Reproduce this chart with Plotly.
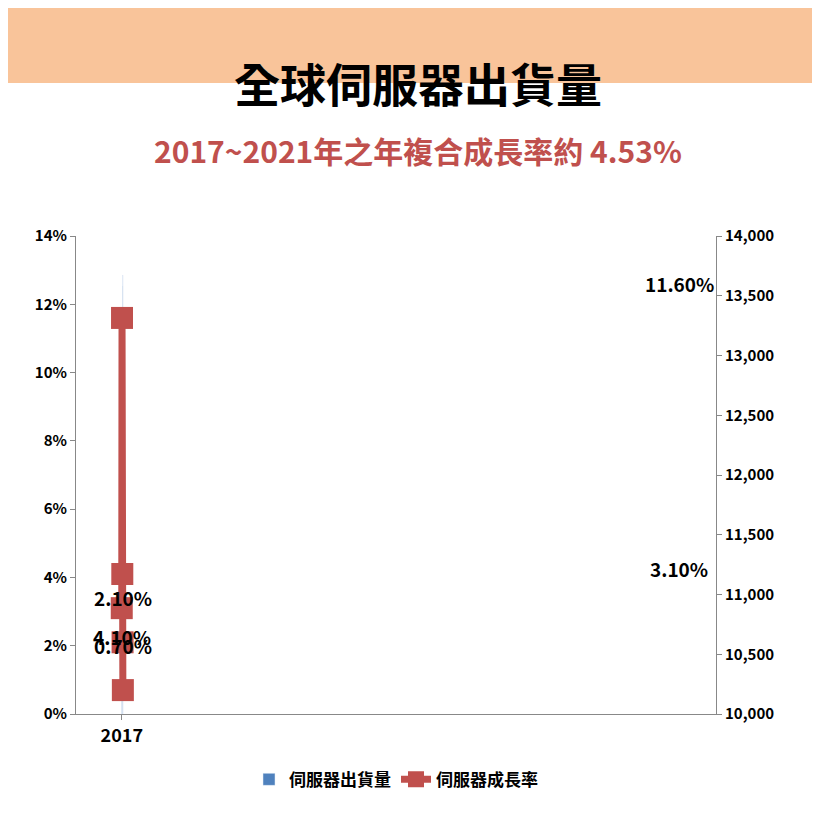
import plotly.graph_objects as go

years = ["2017", "2018", "2019(f)", "2020(f)", "2021(f)"]
shipments = [11451, 12784, 13307, 13582, 13673]
growth = [3.10, 11.60, 4.10, 2.10, 0.70]
growth_shift = [40, 34, -62, 45, 45]
left_ticks = [0, 2, 4, 6, 8, 10, 12, 14]
right_ticks = [10000, 10500, 11000, 11500, 12000, 12500, 13000, 13500, 14000]

F = "Noto Sans CJK TC"
RED = "#C0504D"
BLUE = "#4F81BD"

fig = go.Figure()
fig.add_trace(go.Bar(x=years, y=shipments, name="伺服器出貨量", marker_color=BLUE, width=0.62,
                     text=[f"{v:,}" for v in shipments], textposition="inside",
                     insidetextanchor="middle", textangle=0,
                     textfont=dict(color="white", size=19, family=F, weight="bold"), yaxis="y"))
fig.add_trace(go.Scatter(x=years, y=growth, name="伺服器成長率", mode="lines+markers",
                         line=dict(color=RED, width=7),
                         marker=dict(symbol="square", size=22, color=RED), yaxis="y2"))
for x, g, s in zip(years, growth, growth_shift):
    fig.add_annotation(x=x, y=g, xref="x", yref="y2", text=f"{g:.2f}%", showarrow=False, yshift=s,
                       font=dict(size=19, color="black", family=F, weight="bold"))

fig.add_shape(type="rect", xref="paper", yref="paper", x0=-0.11, x1=1.18, y0=1.32, y1=1.48,
              fillcolor="#F9C49A", line_width=0, layer="below")
fig.add_annotation(xref="paper", yref="paper", x=0.534, y=1.395, text="全球伺服器出貨量", showarrow=False,
                   font=dict(size=46, color="black", family=F, weight="bold"))
fig.add_annotation(xref="paper", yref="paper", x=0.534, y=1.23, text="2017~2021年之年複合成長率約 4.53%",
                   showarrow=False, font=dict(size=30, color=RED, family=F, weight="bold"))

tickf = dict(size=15, family=F, color="black", weight="bold")
fig.update_layout(
    width=820, height=820, paper_bgcolor="white", plot_bgcolor="white",
    margin=dict(l=68, r=112, t=228, b=114),
    font=dict(family=F),
    xaxis=dict(type="category", showline=True, linecolor="#888", ticks="outside", tickcolor="#888",
               tickfont=dict(size=18, family=F, color="black", weight="bold")),
    yaxis=dict(range=[10000, 14000], side="right", tickvals=right_ticks,
               ticktext=[f"{v:,}" for v in right_ticks], showgrid=False, showline=True,
               linecolor="#888", ticks="outside", tickcolor="#888", tickfont=tickf),
    yaxis2=dict(range=[0, 14], overlaying="y", side="left", tickvals=left_ticks,
                ticktext=[f"{v}%" for v in left_ticks], showgrid=False, showline=True,
                linecolor="#888", ticks="outside", tickcolor="#888", tickfont=tickf),
    legend=dict(orientation="h", x=0.5, xanchor="center", y=-0.1, yanchor="top",
                font=dict(size=17, family=F, color="black", weight="bold")),
)
fig.write_html("out.html")
